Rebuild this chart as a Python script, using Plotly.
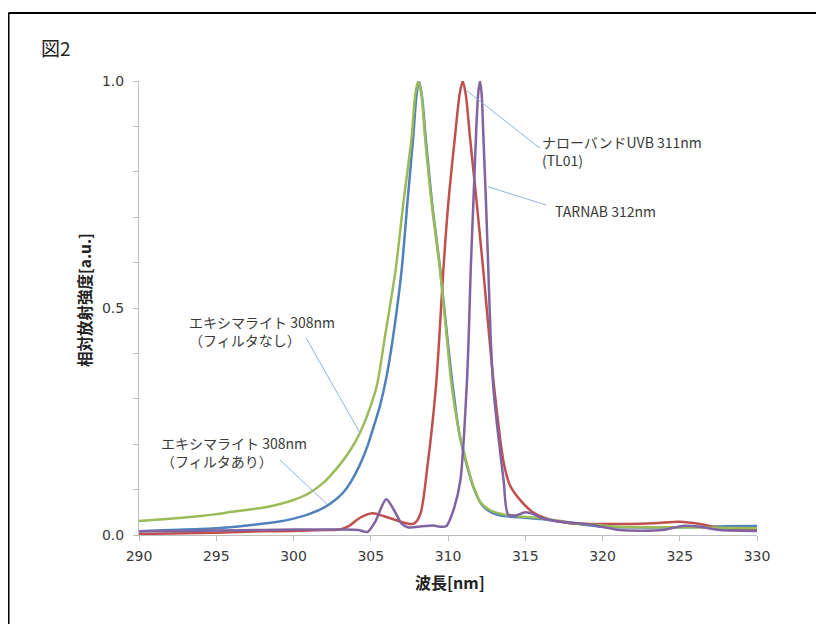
import plotly.graph_objects as go

# ---- data ----
green_nm = [290, 292, 294, 295, 296, 298, 299, 300, 301, 302, 302.5, 303, 303.5, 304, 304.5, 305,
            305.4, 305.92, 306.61, 307.11, 307.65, 307.88, 308.07, 308.28, 308.51, 308.94,
            309.48, 309.92, 310.2, 310.7, 311.2, 311.6, 312.1, 312.7, 313.4, 314.7, 316, 318,
            320, 321, 325, 330]
green_val = [0.031, 0.036, 0.042, 0.046, 0.051, 0.060, 0.067, 0.077, 0.092, 0.117, 0.135, 0.155,
             0.178, 0.205, 0.240, 0.285, 0.330, 0.437, 0.584, 0.731, 0.877, 0.970, 1.0, 0.970,
             0.877, 0.731, 0.584, 0.437, 0.340, 0.230, 0.160, 0.112, 0.072, 0.055, 0.047, 0.041,
             0.037, 0.027, 0.021, 0.018, 0.017, 0.015]

blue_nm = [290, 292, 295, 297, 299, 300, 301, 302, 302.7, 303.3, 303.8, 304.3, 304.8, 305.2,
           305.6, 306.0, 306.46, 307.0, 307.37, 307.75, 307.95, 308.12, 308.32, 308.55, 308.97,
           309.5, 309.95, 310.3, 310.75, 311.25, 311.7, 312.2, 312.8, 313.4, 315, 316, 318, 320,
           321, 325, 328, 330]
blue_val = [0.008, 0.011, 0.015, 0.021, 0.029, 0.036, 0.046, 0.061, 0.077, 0.097, 0.122, 0.155,
            0.197, 0.240, 0.285, 0.345, 0.440, 0.584, 0.731, 0.877, 0.965, 1.0, 0.965, 0.877,
            0.731, 0.584, 0.437, 0.330, 0.220, 0.150, 0.100, 0.066, 0.050, 0.043, 0.038, 0.035,
            0.026, 0.018, 0.017, 0.017, 0.019, 0.020]

red_nm = [290, 293, 295, 298, 300, 302, 303, 303.6, 304.3, 305.1, 305.8, 306.6, 307.3, 307.8,
          308.2, 308.7, 309.22, 309.44, 309.7, 310.02, 310.45, 310.75, 310.95, 311.15, 311.42,
          311.86, 312.28, 312.67, 312.98, 313.6, 314.0, 314.5, 315.5, 316.5, 317.9, 320, 323.3,
          325, 326.3, 327.6, 330]
red_val = [0.002, 0.004, 0.005, 0.008, 0.009, 0.011, 0.012, 0.020, 0.038, 0.048, 0.042, 0.033,
           0.026, 0.025, 0.045, 0.160, 0.327, 0.437, 0.584, 0.731, 0.877, 0.970, 1.0, 0.970,
           0.877, 0.731, 0.584, 0.437, 0.327, 0.160, 0.110, 0.084, 0.050, 0.035, 0.026, 0.024,
           0.026, 0.029, 0.024, 0.015, 0.013]

purple_nm = [290, 293, 295, 298, 300, 303, 304.2, 304.8, 305.3, 306.0, 306.5, 307.0, 307.4, 308.3,
             309.0, 309.6, 309.9, 310.4, 310.8, 311.21, 311.34, 311.47, 311.64, 311.81, 311.95,
             312.07, 312.18, 312.29, 312.46, 312.61, 312.76, 312.93, 313.25, 313.6, 313.9, 314.4,
             315.0, 315.6, 316, 317, 319, 320, 321.1, 323.9, 325.2, 326.3, 327.6, 330]
purple_val = [0.008, 0.009, 0.010, 0.011, 0.012, 0.012, 0.011, 0.007, 0.030, 0.079, 0.055, 0.025,
              0.017, 0.019, 0.021, 0.018, 0.020, 0.060, 0.120, 0.327, 0.437, 0.584, 0.731, 0.877,
              0.970, 1.0, 0.970, 0.877, 0.731, 0.584, 0.437, 0.327, 0.220, 0.120, 0.045, 0.043,
              0.050, 0.045, 0.038, 0.031, 0.024, 0.018, 0.011, 0.011, 0.020, 0.018, 0.011, 0.009]

x_ticks = [290, 295, 300, 305, 310, 315, 320, 325, 330]
y_ticks = [0.0, 0.1, 0.2, 0.3, 0.4, 0.5, 0.6, 0.7, 0.8, 0.9, 1.0]
y_ticktext = ["0.0", "", "", "", "", "0.5", "", "", "", "", "1.0"]

labels = {
    "nb": "ナローバンドUVB 311nm<br>(TL01)",
    "tarnab": "TARNAB 312nm",
    "ex_nofilter": "エキシマライト 308nm<br>（フィルタなし）",
    "ex_filter": "エキシマライト 308nm<br>（フィルタあり）",
}
fig_title = "図2"
x_title = "波長[nm]"
y_title = "相対放射強度[a.u.]"

FONT = "Noto Sans CJK JP"
NUMFONT = "DejaVu Sans"
TXT = "#3a3a3a"

# plot-area placement (figure pixels; the page adds an 8px body margin)
L, T, PW, PH = 131, 73, 618, 454
W, H = 824, 624


def px(fx):
    return (fx - L) / PW


def py(fy):
    return (T + PH - fy) / PH


fig = go.Figure()
series = [
    (blue_nm, blue_val, "#4F81BD"),
    (red_nm, red_val, "#C0504D"),
    (green_nm, green_val, "#9BBB59"),
    (purple_nm, purple_val, "#8064A2"),
]
for xs, ys, c in series:
    fig.add_trace(go.Scatter(x=xs, y=ys, mode="lines",
                             line=dict(color=c, width=2.5, shape="spline", smoothing=0.8),
                             showlegend=False, hoverinfo="skip"))

# leader lines (data coordinates)
leaders = [
    (311.23, 0.978, 315.95, 0.852),
    (312.59, 0.767, 316.34, 0.727),
    (300.81, 0.434, 304.30, 0.225),
    (299.13, 0.165, 302.17, 0.068),
]
for x0, y0, x1, y1 in leaders:
    fig.add_shape(type="line", x0=x0, y0=y0, x1=x1, y1=y1, xref="x", yref="y",
                  line=dict(color="#8DB3E2", width=1))

ann = [
    (labels["nb"], 315.95, 0.846),
    (labels["tarnab"], 316.8, 0.714),
    (labels["ex_nofilter"], 293.1, 0.449),
    (labels["ex_filter"], 291.3, 0.183),
]
for t, x, y in ann:
    fig.add_annotation(text=t, x=x, y=y, xref="x", yref="y", xanchor="left", yanchor="middle",
                       align="left", showarrow=False, font=dict(family=FONT, size=14, color=TXT))

fig.add_annotation(text=fig_title, x=px(31), y=py(39), xref="paper", yref="paper",
                   xanchor="left", yanchor="middle", showarrow=False,
                   font=dict(family=FONT, size=19, color="#222"))
fig.add_annotation(text="<b>%s</b>" % x_title, x=px(442), y=py(574), xref="paper", yref="paper",
                   xanchor="center", yanchor="middle", showarrow=False,
                   font=dict(family=FONT, size=16, color="#222"))
fig.add_annotation(text="<b>%s</b>" % y_title, x=px(76), y=py(292), xref="paper", yref="paper",
                   xanchor="center", yanchor="middle", showarrow=False, textangle=-90,
                   font=dict(family=FONT, size=15.5, color="#222"))

# outer frame
fl = px(0.5)
ft = py(5)
fig.add_shape(type="line", xref="paper", yref="paper", x0=fl, x1=px(W + 10), y0=ft, y1=ft,
              line=dict(color="black", width=2))
fig.add_shape(type="line", xref="paper", yref="paper", x0=fl, x1=fl, y0=ft, y1=py(H + 10),
              line=dict(color="black", width=2))

fig.update_layout(
    width=W, height=H,
    margin=dict(l=L, r=W - L - PW, t=T, b=H - T - PH),
    paper_bgcolor="white", plot_bgcolor="white",
    font=dict(family=FONT, color=TXT),
)
fig.update_xaxes(range=[290, 330], tickvals=x_ticks, ticks="outside", ticklen=5,
                 tickcolor="#BFBFBF", showline=True, linecolor="#BFBFBF", linewidth=1,
                 showgrid=False, zeroline=False, ticklabelstandoff=3,
                 tickfont=dict(family=NUMFONT, size=14, color=TXT))
fig.update_yaxes(range=[0, 1.0], tickvals=y_ticks, ticktext=y_ticktext, ticks="outside",
                 ticklen=5, tickcolor="#BFBFBF", showline=True, linecolor="#BFBFBF", linewidth=1,
                 showgrid=False, zeroline=False, ticklabelstandoff=6,
                 tickfont=dict(family=NUMFONT, size=14, color=TXT))

fig.write_html("out.html")
